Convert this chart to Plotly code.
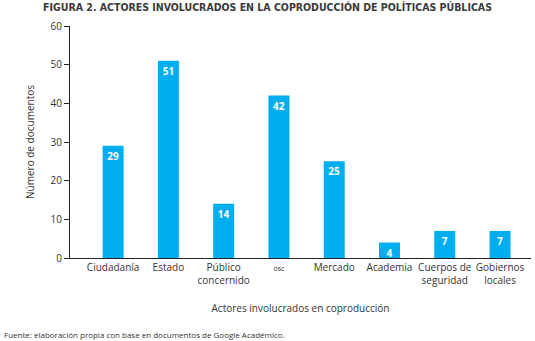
import plotly.graph_objects as go

categories = ["Ciudadanía", "Estado", "Público<br>concernido", "<span style='font-size:7px'>osc</span>",
              "Mercado", "Academia", "Cuerpos de<br>seguridad", "Gobiernos<br>locales"]
values = [29, 51, 14, 42, 25, 4, 7, 7]
y_ticks = [0, 10, 20, 30, 40, 50, 60]

FONT = "Open Sans"
TXT = "#333333"

fig = go.Figure(go.Bar(
    x=list(range(len(categories))),
    y=values,
    width=0.38,
    marker=dict(color="#00AEEF", line=dict(width=0)),
    text=[str(v) for v in values],
    textposition="inside",
    insidetextanchor="end",
    textfont=dict(color="white", size=10, family=FONT, weight="bold"),
    textangle=0,
))

fig.update_layout(
    width=535, height=341,
    margin=dict(l=70, r=4, t=26, b=83),
    paper_bgcolor="white", plot_bgcolor="white",
    font=dict(family=FONT, color=TXT, size=10),
    showlegend=False,
    uniformtext=dict(minsize=10, mode="show"),
    title=dict(text="<b>FIGURA 2. ACTORES INVOLUCRADOS EN LA COPRODUCCIÓN DE POLÍTICAS PÚBLICAS</b>",
               x=0.5, xanchor="center", y=0.978, yanchor="middle",
               font=dict(size=10.5, color="#3a3a3a", family="DejaVu Sans Condensed")),
    xaxis=dict(
        tickmode="array", tickvals=list(range(len(categories))), ticktext=categories,
        range=[-0.78, 7.56], showline=True, linecolor="#222", linewidth=1,
        ticks="", showgrid=False, zeroline=False,
        tickfont=dict(size=10, color=TXT),
        title=dict(text="Actores involucrados en coproducción", standoff=18, font=dict(size=10, color=TXT)),
    ),
    yaxis=dict(
        range=[0, 60], tickmode="array", tickvals=y_ticks,
        showline=True, linecolor="#222", linewidth=1,
        ticks="outside", ticklen=5, tickcolor="#222",
        showgrid=False, zeroline=False,
        tickfont=dict(size=10, color=TXT),
        title=dict(text="Número de documentos", standoff=14, font=dict(size=10, color=TXT)),
    ),
    annotations=[dict(
        text="Fuente: elaboración propia con base en documentos de Google Académico.",
        xref="paper", yref="paper", x=-68/461, y=-76/232, xanchor="left", yanchor="middle",
        showarrow=False, font=dict(size=8, color=TXT),
    )],
)

fig.write_html("out.html")
